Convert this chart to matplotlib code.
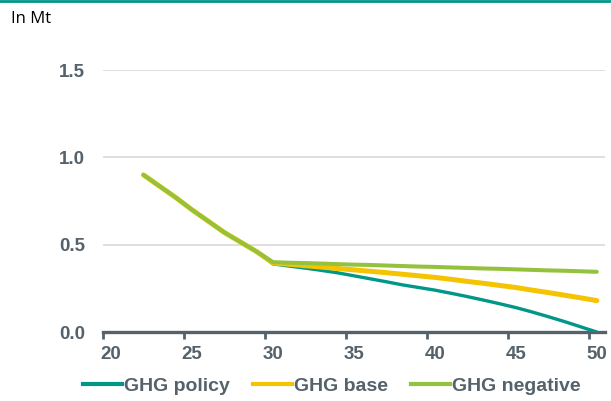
import matplotlib
matplotlib.use("Agg")
import matplotlib.pyplot as plt
from matplotlib.lines import Line2D

years = list(range(2022, 2051))
common = [0.90, 0.835, 0.77, 0.70, 0.635, 0.57, 0.515, 0.46]
policy_tail = [0.39, 0.378, 0.366, 0.353, 0.339, 0.322, 0.305, 0.288, 0.27, 0.255,
               0.24, 0.222, 0.203, 0.183, 0.162, 0.14, 0.115, 0.088, 0.06, 0.03, 0.0]
base_tail = [0.395, 0.388, 0.38, 0.372, 0.364, 0.356, 0.348, 0.34, 0.331, 0.322,
             0.313, 0.302, 0.29, 0.279, 0.267, 0.255, 0.24, 0.226, 0.211, 0.196, 0.18]
negative_tail = [0.40, 0.397, 0.395, 0.392, 0.389, 0.386, 0.384, 0.381, 0.378, 0.375,
                 0.373, 0.37, 0.367, 0.364, 0.362, 0.359, 0.356, 0.353, 0.351, 0.348, 0.345]
ghg_policy = common + policy_tail
ghg_base = common + base_tail
ghg_negative = common + negative_tail

series_names = ["GHG policy", "GHG base", "GHG negative"]
x_ticks = [20, 25, 30, 35, 40, 45, 50]
y_ticks = [0.0, 0.5, 1.0, 1.5]

colors = ["#009688", "#f5c400", "#95c23d"]
widths = [2.4, 3.6, 2.9]
txt_color = "#55626b"
font = "Liberation Sans"
fs = 13.5

fig = plt.figure(figsize=(6.11, 4.01), dpi=100)
ax = fig.add_axes([0.1686, 0.172, 0.8214, 0.653])

# category axis: each year occupies one unit, point at its centre
xs = [y - 2000 + 0.5 for y in years]
for vals, c, lw, name in zip([ghg_policy, ghg_base, ghg_negative], colors, widths, series_names):
    ax.plot(xs, vals, color=c, lw=lw, solid_capstyle="round", solid_joinstyle="round",
            label=name, zorder=3)

ax.set_xlim(20, 51)
ax.set_ylim(0, 1.5)
ax.set_xticks(x_ticks)
ax.set_xticklabels([])
ax.set_xticks([t + 0.5 for t in x_ticks], minor=True)
ax.set_xticklabels([str(t) for t in x_ticks], minor=True, fontsize=fs, fontweight="bold",
                   color=txt_color, family=font)
ax.set_yticks(y_ticks)
ax.set_yticklabels([f"{t:.1f}" for t in y_ticks], fontsize=fs, fontweight="bold",
                   color=txt_color, family=font)
ax.grid(axis="y", color="#d9d9d9", lw=1.2, zorder=0)
for s in ["top", "right", "left"]:
    ax.spines[s].set_visible(False)
ax.spines["bottom"].set_color(txt_color)
ax.spines["bottom"].set_linewidth(2.4)
ax.spines["bottom"].set_zorder(2)
ax.tick_params(axis="x", which="major", direction="out", length=5, width=2, color=txt_color)
ax.tick_params(axis="x", which="minor", length=0, pad=10)
ax.tick_params(axis="y", length=0, pad=13)

handles = [Line2D([], [], color=c, lw=3) for c in colors]
leg = fig.legend(handles, series_names, loc="center", bbox_to_anchor=(0.543, 0.037),
                 ncol=3, frameon=False, handlelength=2.0, handletextpad=0.1,
                 columnspacing=1.2, prop={"family": font, "weight": "bold", "size": 14})
for t in leg.get_texts():
    t.set_color(txt_color)

fig.text(0.018, 0.952, "In Mt", fontsize=12, color="black", family="Open Sans", va="center", ha="left")
fig.add_artist(Line2D([0, 1], [0.998, 0.998], transform=fig.transFigure, color="#00968a", lw=2))

fig.savefig("out.png", dpi=100)
